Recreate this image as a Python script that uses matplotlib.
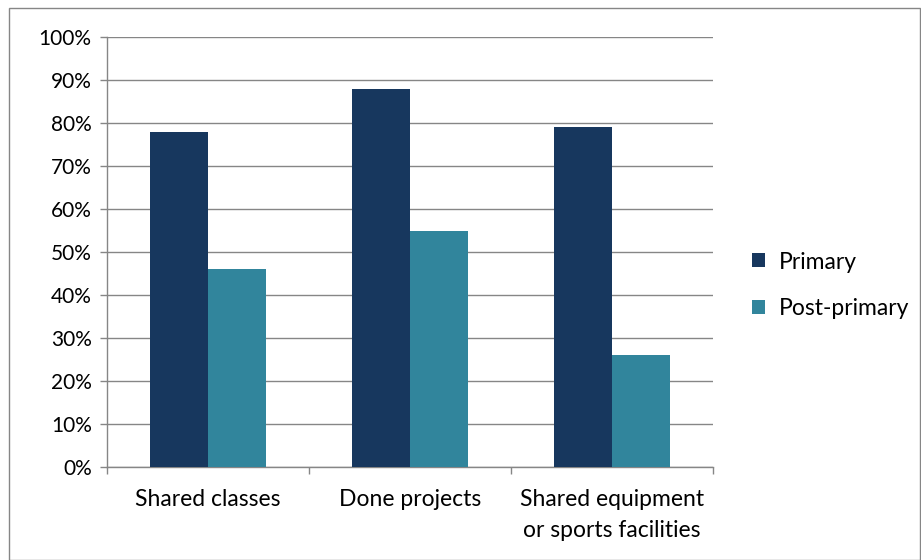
import numpy as np
from matplotlib import pyplot as plt
from matplotlib.patches import Rectangle

categories = ['Shared classes', 'Done projects', 'Shared equipment\nor sports facilities']
primary = [78, 88, 79]
post_primary = [46, 55, 26]

plt.rcParams['font.family'] = ['Lato', 'DejaVu Sans']

grid_col = '#868686'
fig = plt.figure(figsize=(9.21, 5.60), dpi=100)
ax = fig.add_axes([107/921, 1-467/560, (713-107)/921, (467-37)/560])

x = np.arange(len(categories))
w = 0.287
ax.bar(x - w/2, primary, w, color='#17375E', label='Primary', zorder=3)
ax.bar(x + w/2, post_primary, w, color='#31859C', label='Post-primary', zorder=3)

ax.set_xlim(-0.5, 2.5)
ax.set_ylim(0, 100)
ax.set_yticks(range(0, 101, 10))
ax.set_yticklabels([f'{v}%' for v in range(0, 101, 10)], fontsize=15)
ax.set_xticks(x)
ax.set_xticklabels(categories, fontsize=16.5, linespacing=1.6)
ax.tick_params(axis='x', length=0, pad=16)
ax.set_xticks([-0.5, 0.5, 1.5, 2.5], minor=True)
ax.tick_params(axis='x', which='minor', length=5, color=grid_col, width=1)
ax.tick_params(axis='y', length=5, color=grid_col, width=1, pad=6)
ax.yaxis.grid(True, color=grid_col, linewidth=1)
ax.set_axisbelow(True)
for s in ['top', 'right']:
    ax.spines[s].set_visible(False)
for s in ['left', 'bottom']:
    ax.spines[s].set_color(grid_col)
    ax.spines[s].set_linewidth(1)

ax.legend(loc='center left', bbox_to_anchor=(1.05, 0.423), frameon=False,
          fontsize=16.5, handlelength=0.55, handleheight=0.55, labelspacing=1.1,
          handletextpad=0.6, borderaxespad=0)

fig.patches.append(Rectangle((9/921, 0), (920-9)/921, 1-8/560, transform=fig.transFigure,
                             fill=False, edgecolor='#868686', linewidth=1))

fig.savefig('out.png', dpi=100)
